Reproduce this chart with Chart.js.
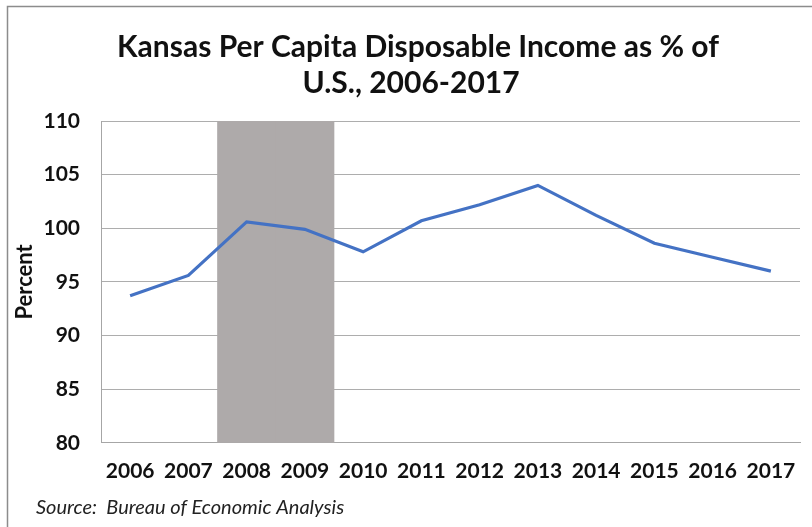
<!DOCTYPE html>
<html>
<head>
<meta charset="utf-8">
<script src="https://cdn.jsdelivr.net/npm/chart.js@4/dist/chart.umd.min.js"></script>
<style>
  html, body { margin: 0; padding: 0; background: #fff; }
  #wrap { width: 812px; height: 527px; }
</style>
</head>
<body>
<div id="wrap"><canvas id="c" width="812" height="527"></canvas></div>
<script>
// Kansas per capita disposable income relative to the U.S. average
const years = ['2006','2007','2008','2009','2010','2011','2012','2013','2014','2015','2016','2017'];
const ksPctOfUS = [93.7, 95.6, 100.6, 99.9, 97.8, 100.7, 102.2, 104.0, 101.2, 98.6, 97.3, 96.0];
const recessionYears = ['2008', '2009'];
const yMin = 80, yMax = 110, yStep = 5;

const titleLines = ['Kansas Per Capita Disposable Income as % of', 'U.S., 2006-2017'];
const sourceNote = 'Source:  Bureau of Economic Analysis';

const FONT = 'Lato, "Open Sans", sans-serif';

// shaded recession band: full-height bars on the recession years
const bandValues = years.map(y => recessionYears.includes(y) ? yMax : null);

// outer frame, two-line title and source note
const framePlugin = {
  id: 'frameAndText',
  afterDraw(chart) {
    const ctx = chart.ctx;
    ctx.save();
    ctx.strokeStyle = '#8c8c8c';
    ctx.lineWidth = 1.5;
    ctx.beginPath();
    ctx.moveTo(7.5, chart.height);
    ctx.lineTo(7.5, 6.5);
    ctx.lineTo(chart.width, 6.5);
    ctx.stroke();

    ctx.fillStyle = '#111';
    ctx.textBaseline = 'middle';
    ctx.textAlign = 'center';
    ctx.font = 'bold 30px ' + FONT;
    ctx.fillText(titleLines[0], 418, 47);
    ctx.fillText(titleLines[1], 411, 83);

    ctx.fillStyle = '#222';
    ctx.font = 'italic 20px ' + FONT;
    ctx.textAlign = 'left';
    ctx.fillText(sourceNote, 36, 508);
    ctx.restore();
  }
};

new Chart(document.getElementById('c'), {
  data: {
    labels: years,
    datasets: [
      {
        type: 'line',
        label: 'Kansas',
        data: ksPctOfUS,
        borderColor: '#4472C4',
        borderWidth: 3.2,
        pointRadius: 0,
        tension: 0,
        order: 1
      },
      {
        type: 'bar',
        label: 'Recession',
        data: bandValues,
        backgroundColor: '#AEAAAA',
        barPercentage: 1,
        categoryPercentage: 1,
        order: 2
      }
    ]
  },
  options: {
    responsive: false,
    animation: false,
    layout: { padding: { left: 8, right: 12, top: 121, bottom: 27 } },
    plugins: {
      legend: { display: false },
      tooltip: { enabled: false },
      title: { display: false }
    },
    scales: {
      x: {
        offset: true,
        grid: { display: false, drawTicks: false },
        border: { display: true, color: '#a6a6a6', width: 1 },
        ticks: {
          color: '#111',
          padding: 16,
          maxRotation: 0,
          font: { family: FONT, size: 21, weight: 'bold' }
        }
      },
      y: {
        min: yMin,
        max: yMax,
        afterFit(scale) { scale.width = 93; },
        grid: { color: '#adadad', drawTicks: false, lineWidth: 1 },
        border: { display: true, color: '#a6a6a6', width: 1 },
        ticks: {
          stepSize: yStep,
          color: '#111',
          padding: 21,
          font: { family: FONT, size: 21, weight: 'bold' }
        },
        title: {
          display: true,
          text: 'Percent',
          color: '#111',
          padding: { top: 4, bottom: 0 },
          font: { family: FONT, size: 22, weight: 'bold' }
        }
      }
    }
  },
  plugins: [framePlugin]
});
</script>
</body>
</html>
